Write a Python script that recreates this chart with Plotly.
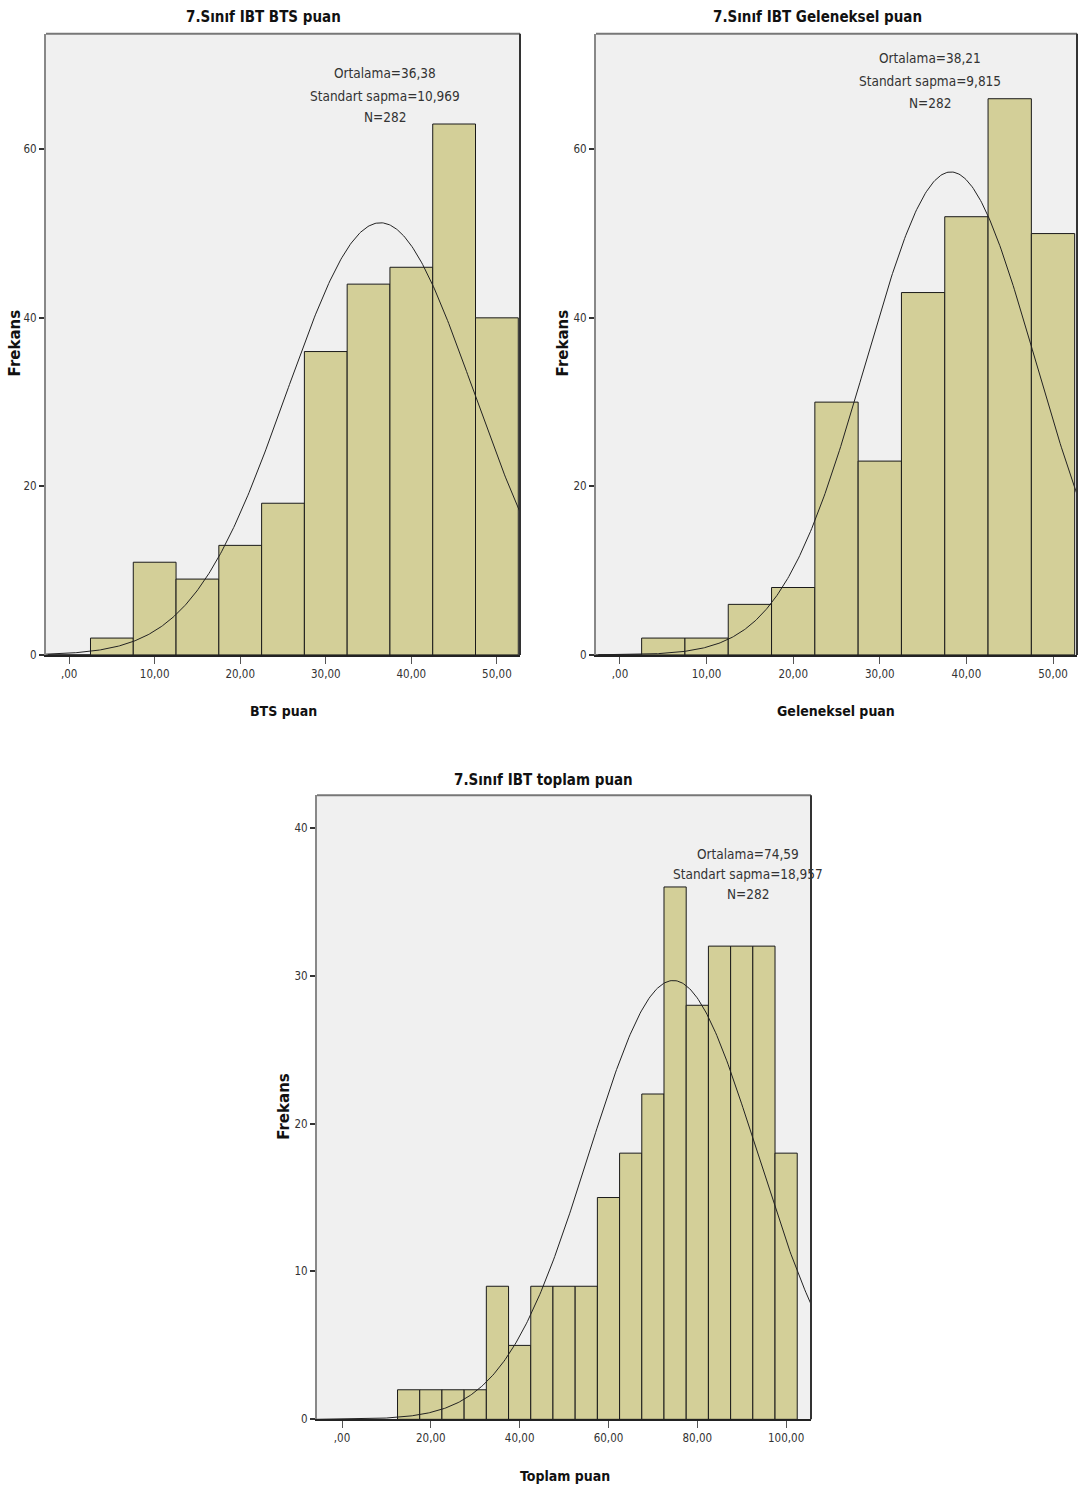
import numpy as np
import plotly.graph_objects as go

# ---------------- data ----------------
bts_centers = [0, 5, 10, 15, 20, 25, 30, 35, 40, 45, 50]
bts_counts = [0, 2, 11, 9, 13, 18, 36, 44, 46, 63, 40]

gel_centers = [0, 5, 10, 15, 20, 25, 30, 35, 40, 45, 50]
gel_counts = [0, 2, 2, 6, 8, 30, 23, 43, 52, 66, 50]

top_centers = [15, 20, 25, 30, 35, 40, 45, 50, 55, 60, 65, 70, 75, 80, 85, 90, 95, 100]
top_counts = [2, 2, 2, 2, 9, 5, 9, 9, 9, 15, 18, 22, 36, 28, 32, 32, 32, 18]

titles = ["7.Sınıf IBT BTS puan", "7.Sınıf IBT Geleneksel puan", "7.Sınıf IBT toplam puan"]
xlabels = ["BTS puan", "Geleneksel puan", "Toplam puan"]
means = [36.38, 38.21, 74.59]
sds = [10.969, 9.815, 18.957]
ns = [282, 282, 282]
stat_lines = [
    ["Ortalama=36,38", "Standart sapma=10,969", "N=282"],
    ["Ortalama=38,21", "Standart sapma=9,815", "N=282"],
    ["Ortalama=74,59", "Standart sapma=18,957", "N=282"],
]
bin_width = 5

x_tickvals_12 = [0, 10, 20, 30, 40, 50]
x_ticktext_12 = [",00", "10,00", "20,00", "30,00", "40,00", "50,00"]
x_tickvals_3 = [0, 20, 40, 60, 80, 100]
x_ticktext_3 = [",00", "20,00", "40,00", "60,00", "80,00", "100,00"]
y_tickvals_12 = [0, 20, 40, 60]
y_tickvals_3 = [0, 10, 20, 30, 40]

# ---------------- layout geometry ----------------
W, H = 1083, 1500
panels = [
    dict(x0=46, x1=520, ytop=34, ybot=658, xr=[-2.7, 52.7], yr=[0, 73.7],
         tv=x_tickvals_12, tt=x_ticktext_12, ytv=y_tickvals_12,
         centers=bts_centers, counts=bts_counts,
         title_xy=(263, 17), stat_x=385, stat_y=[73, 96, 118],
         xl_xy=(283, 714), yl_xy=(15, 345)),
    dict(x0=596, x1=1077, ytop=34, ybot=658, xr=[-2.77, 52.77], yr=[0, 73.7],
         tv=x_tickvals_12, tt=x_ticktext_12, ytv=y_tickvals_12,
         centers=gel_centers, counts=gel_counts,
         title_xy=(817, 17), stat_x=930, stat_y=[58, 81, 103],
         xl_xy=(836, 714), yl_xy=(563, 345)),
    dict(x0=317, x1=811, ytop=799, ybot=1426, xr=[-5.63, 105.6], yr=[0, 42.2],
         tv=x_tickvals_3, tt=x_ticktext_3, ytv=y_tickvals_3,
         centers=top_centers, counts=top_counts,
         title_xy=(543, 784), stat_x=748, stat_y=[858, 878, 898],
         xl_xy=(565, 1483), yl_xy=(284, 1112)),
]

BAR = "#D3CF98"
BG = "#F0F0F0"
NARROW = "DejaVu Sans Condensed, Liberation Sans Narrow, Arial Narrow, sans-serif"

fig = go.Figure()
layout = dict(width=W, height=H, margin=dict(l=0, r=0, t=0, b=0),
              paper_bgcolor="white", showlegend=False)
annotations = []
shapes = []


def px(xp):
    return xp / W


def py(yp):
    return 1 - yp / H


for i, p in enumerate(panels):
    k = "" if i == 0 else str(i + 1)
    xa, ya = "x" + k, "y" + k
    fig.add_trace(go.Bar(
        x=p["centers"], y=p["counts"], width=bin_width,
        marker=dict(color=BAR, line=dict(color="#1a1a1a", width=1)),
        xaxis=xa, yaxis=ya, hoverinfo="x+y"))
    xs = np.linspace(p["xr"][0], p["xr"][1], 400)
    ys = ns[i] * bin_width * np.exp(-0.5 * ((xs - means[i]) / sds[i]) ** 2) / (sds[i] * np.sqrt(2 * np.pi))
    fig.add_trace(go.Scatter(x=xs, y=ys, mode="lines",
                             line=dict(color="#222222", width=1),
                             xaxis=xa, yaxis=ya, hoverinfo="skip"))
    layout["xaxis" + k] = dict(
        domain=[px(p["x0"]), px(p["x1"])], range=p["xr"], anchor=ya,
        tickvals=p["tv"], ticktext=p["tt"], ticks="outside", ticklen=7,
        tickcolor="#555", tickwidth=1, tickangle=0,
        showline=True, linecolor="#222", linewidth=2, showgrid=False, zeroline=False,
        tickfont=dict(family=NARROW, size=11.5, color="#333"), fixedrange=True)
    layout["yaxis" + k] = dict(
        domain=[py(p["ybot"]), py(p["ytop"])], range=p["yr"], anchor=xa,
        tickvals=p["ytv"], ticks="outside", ticklen=5, tickcolor="#333", tickwidth=2,
        showline=True, linecolor="#888", linewidth=2, showgrid=False, zeroline=False,
        tickfont=dict(family=NARROW, size=11.5, color="#333"), fixedrange=True)
    # top and right frame lines
    shapes.append(dict(type="line", xref=xa + " domain", yref=ya + " domain",
                       x0=0, x1=1, y0=1, y1=1, line=dict(color="#777", width=2)))
    shapes.append(dict(type="line", xref=xa + " domain", yref=ya + " domain",
                       x0=1, x1=1, y0=0, y1=1, line=dict(color="#333", width=2)))
    # title
    annotations.append(dict(text="<b>" + titles[i] + "</b>", xref="paper", yref="paper",
                            x=px(p["title_xy"][0]), y=py(p["title_xy"][1]),
                            xanchor="center", yanchor="middle", showarrow=False,
                            font=dict(family=NARROW, size=15, color="#111")))
    # stats (one annotation per line to match the line spacing)
    for line_text, yl in zip(stat_lines[i], p["stat_y"]):
        annotations.append(dict(text=line_text, xref="paper", yref="paper",
                                x=px(p["stat_x"]), y=py(yl),
                                xanchor="center", yanchor="middle",
                                showarrow=False,
                                font=dict(family=NARROW, size=13.5, color="#333")))
    # x label
    annotations.append(dict(text="<b>" + xlabels[i] + "</b>", xref="paper", yref="paper",
                            x=px(p["xl_xy"][0]), y=py(p["xl_xy"][1]),
                            xanchor="center", yanchor="middle", showarrow=False,
                            font=dict(family=NARROW, size=14, color="#111")))
    # y label
    annotations.append(dict(text="<b>Frekans</b>", xref="paper", yref="paper",
                            x=px(p["yl_xy"][0]), y=py(p["yl_xy"][1]),
                            xanchor="center", yanchor="middle", showarrow=False,
                            textangle=-90,
                            font=dict(family="DejaVu Sans, sans-serif", size=15, color="#111")))

layout["annotations"] = annotations
layout["shapes"] = shapes
layout["plot_bgcolor"] = BG
fig.update_layout(**layout)
fig.write_html("out.html")
